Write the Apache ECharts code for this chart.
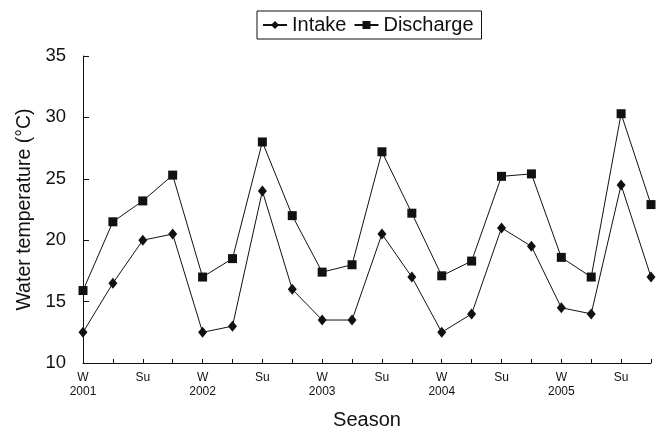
<!DOCTYPE html>
<html>
<head>
<meta charset="utf-8">
<script src="https://cdn.jsdelivr.net/npm/echarts@6/dist/echarts.min.js"></script>
<style>
html,body{margin:0;padding:0;background:#fff;}
#main{width:657px;height:429px;}
</style>
</head>
<body>
<div id="main"></div>
<script>
var categories = ['W 2001','Sp 2001','Su 2001','F 2001','W 2002','Sp 2002','Su 2002','F 2002','W 2003','Sp 2003','Su 2003','F 2003','W 2004','Sp 2004','Su 2004','F 2004','W 2005','Sp 2005','Su 2005','F 2005'];
var tickLabels = ['W\n2001','','Su','','W\n2002','','Su','','W\n2003','','Su','','W\n2004','','Su','','W\n2005','','Su',''];
var intake = [12.5,16.5,20,20.5,12.5,13,24,16,13.5,13.5,20.5,17,12.5,14,21,19.5,14.5,14,24.5,17];
var discharge = [15.9,21.5,23.2,25.3,17,18.5,28,22,17.4,18,27.2,22.2,17.1,18.3,25.2,25.4,18.6,17,30.3,22.9];

var FONT = '"Liberation Sans", Arial, Helvetica, sans-serif';
var chart = echarts.init(document.getElementById('main'), null, {renderer:'canvas'});
chart.setOption({
  animation: false,
  backgroundColor: '#fff',
  textStyle: {fontFamily: FONT, color: '#111'},
  legend: {
    left: 257, top: 11,
    padding: [4, 8, 4, 5],
    itemGap: 7,
    itemWidth: 24, itemHeight: 10,
    borderColor: '#111', borderWidth: 1,
    textStyle: {fontSize: 20, color: '#111', fontFamily: FONT},
    data: ['Intake','Discharge']
  },
  grid: {left: 83, right: 6, top: 56, bottom: 66, containLabel: false, outerBoundsMode: 'none'},
  xAxis: {
    type: 'category',
    data: categories,
    boundaryGap: false,
    name: 'Season',
    nameLocation: 'middle',
    nameGap: 47,
    nameTextStyle: {fontSize: 20, color: '#111', fontFamily: FONT},
    axisLine: {lineStyle: {color: '#111', width: 1}},
    axisTick: {inside: true, length: 4, interval: 0, lineStyle: {color: '#111'}},
    axisLabel: {
      interval: 0, fontSize: 12, color: '#111', margin: 8, lineHeight: 14,
      formatter: function (v, i) { return tickLabels[i]; }
    },
    splitLine: {show: false}
  },
  yAxis: {
    type: 'value',
    min: 10, max: 35, interval: 5,
    name: 'Water temperature (\u00B0C)',
    nameLocation: 'middle',
    nameGap: 46,
    nameTextStyle: {fontSize: 19.5, color: '#111', fontFamily: FONT},
    axisLine: {show: true, lineStyle: {color: '#111', width: 1}},
    axisTick: {show: true, inside: true, length: 6, lineStyle: {color: '#111'}},
    axisLabel: {fontSize: 18.5, color: '#111', margin: 17},
    splitLine: {show: false}
  },
  series: [
    {
      name: 'Intake', type: 'line', data: intake,
      symbol: 'diamond', symbolSize: [9, 11],
      itemStyle: {color: '#111'},
      lineStyle: {color: '#111', width: 1},
      clip: false
    },
    {
      name: 'Discharge', type: 'line', data: discharge,
      symbol: 'rect', symbolSize: 9,
      itemStyle: {color: '#111'},
      lineStyle: {color: '#111', width: 1},
      clip: false
    }
  ]
});
</script>
</body>
</html>
